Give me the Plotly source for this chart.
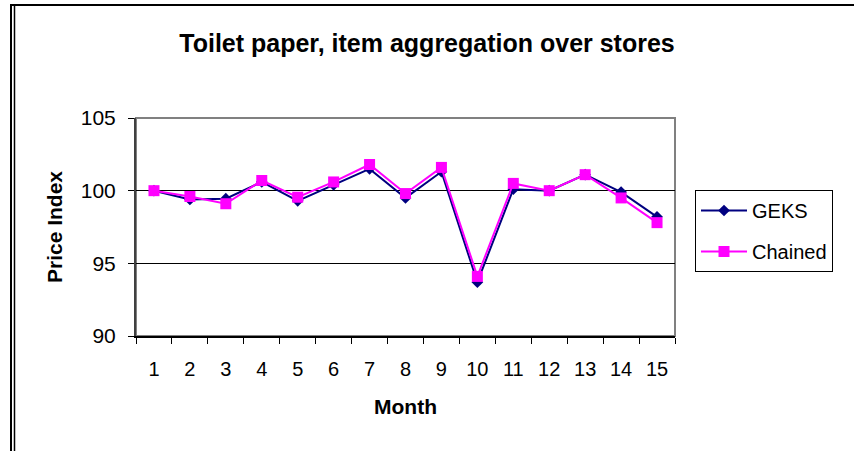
import plotly.graph_objects as go

months = [str(i) for i in range(1, 16)]
geks = [100.0, 99.4, 99.45, 100.6, 99.3, 100.4, 101.5, 99.5, 101.3, 93.7, 100.1, 100.0, 101.1, 99.9, 98.2]
chained = [100.0, 99.6, 99.1, 100.7, 99.55, 100.6, 101.8, 99.8, 101.6, 94.1, 100.5, 100.0, 101.1, 99.5, 97.8]
yticks = [90, 95, 100, 105]

L, R, T, B = 136, 675, 118, 336
W, H = 854, 451
pw, ph = R - L, B - T

def px(x):
    return (x - L) / pw

def py(y):
    return (B - y) / ph

fig = go.Figure()
fig.add_trace(go.Scatter(x=months, y=geks, name="GEKS", mode="lines+markers", legendgroup="g",
                         line=dict(color="#000080", width=2),
                         marker=dict(symbol="diamond", size=9, color="#000080")))
fig.add_trace(go.Scatter(x=months, y=chained, name="Chained", mode="lines+markers", legendgroup="c",
                         line=dict(color="#FF00FF", width=2),
                         marker=dict(symbol="square", size=11, color="#FF00FF")))

font = "Liberation Sans, Arial, sans-serif"
fig.update_layout(
    width=W, height=H,
    margin=dict(l=L, r=W - R, t=T, b=H - B),
    paper_bgcolor="white", plot_bgcolor="white",
    font=dict(family=font, color="black", size=20),
    title=dict(text="<b>Toilet paper, item aggregation over stores</b>", x=0.5, xanchor="center",
               y=1 - 43 / H, yanchor="middle", font=dict(size=25, family=font)),
    legend=dict(x=px(695), y=py(190), xanchor="left", yanchor="top",
                bgcolor="white", bordercolor="black", borderwidth=1,
                font=dict(size=20), tracegroupgap=12, itemwidth=46),
    showlegend=True,
)
fig.update_xaxes(type="category", tickson="boundaries", ticks="outside", ticklen=6,
                 tickcolor="black", showline=True, linecolor="black", linewidth=2,
                 showgrid=False, ticklabelstandoff=14,
                 title=dict(text="<b>Month</b>", standoff=20, font=dict(size=21)),
                 tickfont=dict(size=20), range=[-0.5, 14.5])
fig.update_yaxes(range=[90, 105], tickvals=yticks, ticks="outside", ticklen=6,
                 tickcolor="black", showline=True, linecolor="#404040", linewidth=2,
                 showgrid=True, gridcolor="black", gridwidth=1, ticklabelstandoff=8,
                 title=dict(text="<b>Price Index</b>", standoff=12, font=dict(size=21)),
                 tickfont=dict(size=21), zeroline=False)
# gray plot frame
fig.add_shape(type="rect", xref="paper", yref="paper", x0=0, x1=1, y0=0, y1=1,
              line=dict(color="#808080", width=2), layer="below")
# outer border: top line and double left line
fig.add_shape(type="line", xref="paper", yref="paper", x0=px(10), x1=px(W), y0=py(5), y1=py(5),
              line=dict(color="black", width=2))
fig.add_shape(type="line", xref="paper", yref="paper", x0=px(11), x1=px(11), y0=py(5), y1=py(H),
              line=dict(color="black", width=2))
fig.add_shape(type="line", xref="paper", yref="paper", x0=px(14.5), x1=px(14.5), y0=py(5), y1=py(H),
              line=dict(color="black", width=1.5))
fig.write_html("out.html")
